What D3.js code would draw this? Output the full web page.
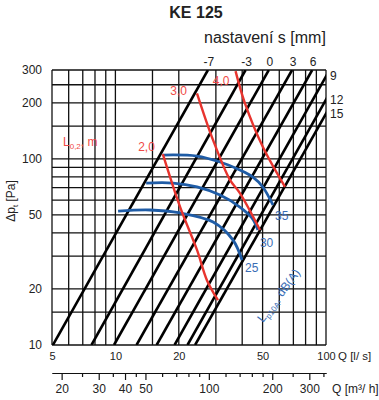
<!DOCTYPE html>
<html>
<head>
<meta charset="utf-8">
<script src="https://cdn.jsdelivr.net/npm/d3@7"></script>
<style>
  body { margin: 0; background: #fff; }
  svg text { font-family: "Liberation Sans", Arial, Helvetica, sans-serif; }
</style>
</head>
<body>
<svg id="chart" width="379" height="400"></svg>
<script>
// Flow axis (l/s) and pressure axis (Pa)
const flowGrid = [5, 6, 7, 8, 9, 10, 15, 20, 30, 40, 50, 60, 70, 80, 90, 100];
const flowLabels = [5, 10, 20, 50, 100];
const pressureGrid = [10, 15, 20, 30, 40, 50, 60, 70, 80, 90, 100, 150, 200, 250, 300];
const pressureLabels = [10, 20, 50, 100, 200, 300];
// Secondary flow axis (m³/h)
const flowM3hLabels = [20, 30, 40, 50, 100, 200, 300];
const flowM3hMinor = [25, 35, 45, 60, 70, 80, 90, 120, 140, 160, 180, 250, 350];

// Damper settings s [mm]: flow at 10 Pa and at 300 Pa
const settings = ["-7", "-3", "0", "3", "6", "9", "12", "15"];
const flowAt10Pa = [5.05, 7.7, 9.85, 12.6, 15.7, 19.1, 22.0, 23.9];
const flowAt300Pa = [27.5, 41.5, 53.5, 69, 86, 104, 120, 131];

// Throw L0,2 [m] curves, points as [Q l/s, Δp Pa]
const throwLabels = ["2,0", "3,0", "4,0"];
const throw20 = [[16.8, 106], [20.3, 55], [24.4, 32.4], [27.2, 22.3], [30.7, 17.4]];
const throw30 = [[24.4, 225], [29.1, 126], [35.0, 77], [39.0, 65.5], [48.6, 41.5]];
const throw40 = [[37.2, 296], [41.2, 199], [50.1, 116], [63.9, 70.6]];

// Sound level Lp10A [dB(A)] curves
const soundLabels = ["25", "30", "35"];
const sound25 = [[10.3, 52.4], [14.6, 53.1], [20.3, 51.2], [29.1, 45.8], [36.2, 36.6], [39.9, 28.6]];
const sound30 = [[14.0, 74.1], [18.8, 74.1], [24.4, 70.6], [31.4, 63.9], [39.0, 55.1], [44.5, 48.1], [47.5, 41.5]];
const sound35 = [[16.8, 104.8], [24.4, 103.5], [31.4, 96.1], [39.0, 87.1], [45.0, 79.8], [50.1, 70.6], [56.0, 56.5]];

const svg = d3.select("#chart");
const L = 52, R = 326, T = 70, B = 345;
const RED = "#e8342e", RED_TEXT = "#f04a46", BLUE = "#1f5ca6", BLUE_TEXT = "#3a6db5";

const x = d3.scaleLog().domain([5, 100]).range([L, R]);
const y = d3.scaleLog().domain([10, 300]).range([B, T]);
const x2 = d3.scaleLog().domain([5 * 3.6, 100 * 3.6]).range([L, R]);

svg.append("defs").append("clipPath").attr("id", "plot")
  .append("rect").attr("x", L).attr("y", T).attr("width", R - L).attr("height", B - T);

// Title
svg.append("text").attr("x", 196).attr("y", 18).attr("text-anchor", "middle")
  .attr("font-size", 16).attr("font-weight", "bold").attr("fill", "#222").text("KE 125");
svg.append("text").attr("x", 204).attr("y", 43)
  .attr("font-size", 16).attr("fill", "#222").text("nastavení s [mm]");

// Grid
const grid = svg.append("g").attr("stroke", "#111").attr("stroke-width", 1.3);
grid.selectAll("line.v").data(flowGrid).join("line").attr("class", "v")
  .attr("x1", d => x(d)).attr("x2", d => x(d)).attr("y1", T).attr("y2", B);
grid.selectAll("line.h").data(pressureGrid).join("line").attr("class", "h")
  .attr("y1", d => y(d)).attr("y2", d => y(d)).attr("x1", L).attr("x2", R);

// Tick labels
const xAxis = svg.append("g").attr("transform", `translate(0,${B})`)
  .call(d3.axisBottom(x).tickValues(flowLabels).tickSize(0).tickPadding(7).tickFormat(d3.format("d")));
const yAxis = svg.append("g").attr("transform", `translate(${L},0)`)
  .call(d3.axisLeft(y).tickValues(pressureLabels).tickSize(0).tickPadding(10).tickFormat(d3.format("d")));
[xAxis, yAxis].forEach(a => {
  a.select(".domain").remove();
  a.selectAll("text").attr("font-size", a === xAxis ? 11 : 12).attr("fill", "#222").attr("font-family", null);
});
svg.append("text").attr("x", 338).attr("y", 360).attr("font-size", 11.5).attr("fill", "#222").text("Q [l/ s]");

// Secondary m³/h axis
const x2Minor = svg.append("g").attr("transform", "translate(0,373)")
  .call(d3.axisBottom(x2).tickValues(flowM3hMinor).tickSizeInner(4).tickSizeOuter(0).tickFormat(""));
const x2Major = svg.append("g").attr("transform", "translate(0,373)")
  .call(d3.axisBottom(x2).tickValues(flowM3hLabels).tickSizeInner(7).tickSizeOuter(0).tickPadding(4).tickFormat(d3.format("d")));
[x2Minor, x2Major].forEach(a => {
  a.selectAll("line").attr("stroke", "#111").attr("stroke-width", 1.2);
  a.select(".domain").attr("stroke", "#111").attr("stroke-width", 1.2);
  a.selectAll("text").attr("font-size", 12).attr("fill", "#222").attr("font-family", null);
});
svg.append("text").attr("x", 332).attr("y", 393).attr("font-size", 12).attr("fill", "#222")
  .text("Q [m³/ h]");

// Y axis title
const yt = svg.append("text").attr("transform", "translate(15,201) rotate(-90)")
  .attr("text-anchor", "middle").attr("font-size", 12).attr("fill", "#222");
yt.append("tspan").text("Δp");
yt.append("tspan").attr("font-size", 8).attr("dy", 3).text("t");
yt.append("tspan").attr("dy", -3).text(" [Pa]");

// Damper setting lines
const plot = svg.append("g").attr("clip-path", "url(#plot)");
const damper = settings.map((s, i) => ({ s, q0: flowAt10Pa[i], q1: flowAt300Pa[i] }));
plot.selectAll("line.damper").data(damper).join("line").attr("class", "damper")
  .attr("x1", d => x(d.q0)).attr("y1", y(10))
  .attr("x2", d => x(d.q1)).attr("y2", y(300))
  .attr("stroke", "#000").attr("stroke-width", 2.6);

// Setting labels: along the top where the line leaves at 300 Pa, else at the right edge
damper.forEach(d => {
  if (d.q1 <= 100) {
    svg.append("text").attr("x", x(d.q1) + 1).attr("y", 66).attr("text-anchor", "middle")
      .attr("font-size", 12).attr("fill", "#222").text(d.s);
  } else {
    const t = (Math.log(100) - Math.log(d.q0)) / (Math.log(d.q1) - Math.log(d.q0));
    const p = Math.exp(Math.log(10) + t * (Math.log(300) - Math.log(10)));
    svg.append("text").attr("x", 330).attr("y", y(p) + 4)
      .attr("font-size", 12).attr("fill", "#222").text(d.s);
  }
});

const curve = d3.line().x(d => x(d[0])).y(d => y(d[1])).curve(d3.curveCatmullRom.alpha(0.5));

// Sound level curves
const sounds = [sound25, sound30, sound35];
plot.selectAll("path.sound").data(sounds).join("path").attr("class", "sound")
  .attr("d", curve).attr("fill", "none").attr("stroke", BLUE).attr("stroke-width", 2.8);

// Throw curves
const throws = [throw20, throw30, throw40];
plot.selectAll("path.throw").data(throws).join("path").attr("class", "throw")
  .attr("d", curve).attr("fill", "none").attr("stroke", RED).attr("stroke-width", 2.4);

// Throw labels beside the start of each curve
const throwOffsets = [[-8, -3], [-10, 2], [-6, 14]];
throws.forEach((c, i) => {
  svg.append("text").attr("x", x(c[0][0]) + throwOffsets[i][0]).attr("y", y(c[0][1]) + throwOffsets[i][1])
    .attr("text-anchor", "end").attr("font-size", 12).attr("fill", RED_TEXT).text(throwLabels[i]);
});

// Sound labels below the end of each curve
const soundOffsets = [[3, 12], [2, 17], [2, 15]];
sounds.forEach((c, i) => {
  const e = c[c.length - 1];
  svg.append("text").attr("x", x(e[0]) + soundOffsets[i][0]).attr("y", y(e[1]) + soundOffsets[i][1])
    .attr("font-size", 12).attr("fill", BLUE_TEXT).text(soundLabels[i]);
});

// Curve family titles
const lt = svg.append("text").attr("x", 63).attr("y", 146).attr("font-size", 12).attr("fill", RED_TEXT);
lt.append("tspan").text("L");
lt.append("tspan").attr("font-size", 8).attr("dy", 3).text("0,2");
lt.append("tspan").attr("dy", -3).text(", m");

const st = svg.append("text").attr("transform", "translate(263,323) rotate(-53)")
  .attr("font-size", 12).attr("fill", BLUE_TEXT);
st.append("tspan").text("L");
st.append("tspan").attr("font-size", 8).attr("dy", 3).text("p10A");
st.append("tspan").attr("dy", -3).text(", dB(A)");
</script>
</body>
</html>
